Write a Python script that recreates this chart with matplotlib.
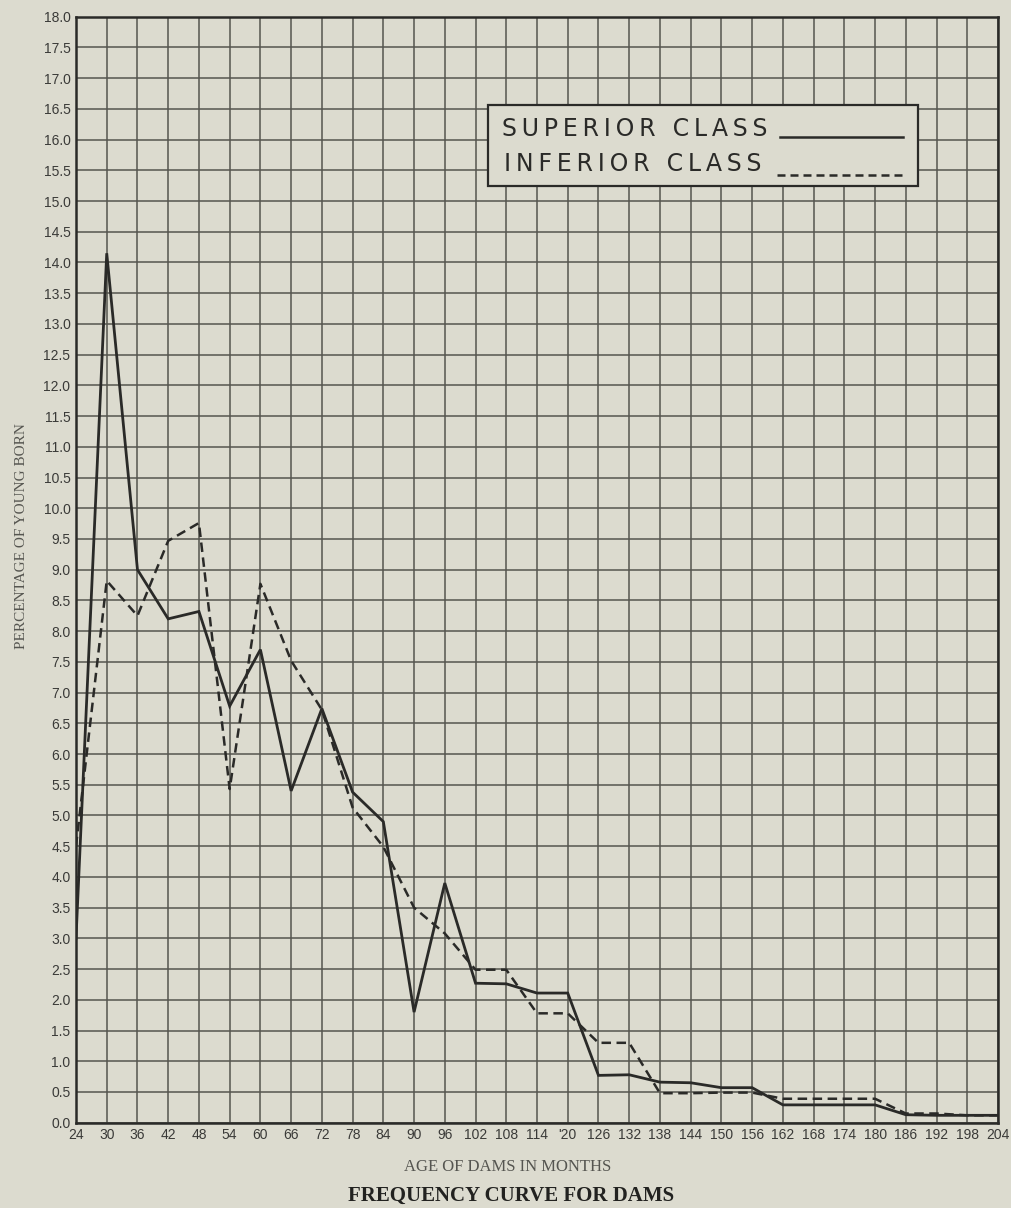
import numpy as np
import matplotlib
matplotlib.use('Agg')
import matplotlib.pyplot as plt
from matplotlib.patches import Rectangle
from matplotlib.lines import Line2D

# age of dams in months
ages = list(range(24, 205, 6))
age_labels = [str(a) for a in ages]
age_labels[ages.index(120)] = "'20"

superior = [3.0, 14.15, 9.0, 8.2, 8.32, 6.78, 7.7, 5.4, 6.74, 5.38, 4.9,
            1.8, 3.9, 2.27, 2.26, 2.11, 2.11, 0.77, 0.78, 0.66, 0.65, 0.57,
            0.57, 0.29, 0.29, 0.29, 0.29, 0.13, 0.12, 0.12, 0.12]
inferior = [4.5, 8.82, 8.25, 9.47, 9.76, 5.43, 8.77, 7.52, 6.72, 5.13, 4.49,
            3.5, 3.08, 2.49, 2.49, 1.78, 1.78, 1.3, 1.3, 0.48, 0.48, 0.49,
            0.49, 0.39, 0.39, 0.39, 0.39, 0.15, 0.15, 0.12, 0.12]

y_ticks = np.arange(0, 18.01, 0.5)

bg = '#dcdbcf'
ink = '#2a2a28'
grid_c = '#55554f'

fig = plt.figure(figsize=(10.11, 12.08), dpi=100, facecolor=bg)
W, H = 1011, 1208
L, R, T, B = 76, 998, 16.7, 1122.7
ax = fig.add_axes([L / W, 1 - B / H, (R - L) / W, (B - T) / H], facecolor=bg)

ax.plot(ages, superior, color=ink, lw=2.0, solid_joinstyle='miter', zorder=3)
ax.plot(ages, inferior, color=ink, lw=1.8, dashes=(3.8, 2.2), zorder=3)

ax.set_xlim(24, 204)
ax.set_ylim(0, 18)
ax.set_xticks(ages)
ax.set_xticklabels(age_labels)
ax.set_yticks(y_ticks)
ax.set_yticklabels(['%.1f' % v for v in y_ticks])
ax.grid(True, color=grid_c, lw=1.1)
ax.set_axisbelow(True)
ax.tick_params(length=0, labelsize=10, labelcolor='#3a3a38', pad=4)
for lab in ax.get_xticklabels() + ax.get_yticklabels():
    lab.set_fontfamily('Liberation Sans')
for s in ax.spines.values():
    s.set_color(ink)
    s.set_linewidth(1.8)

ax.set_ylabel('PERCENTAGE OF YOUNG BORN', family='Liberation Serif',
              fontsize=11, color='#555550')
ax.yaxis.set_label_coords(-0.052, 0.53)


def axc(px, py):
    return ((px - L) / (R - L), (B - py) / (B - T))


def spaced(word):
    return '\u2009'.join(word)


# legend box
x0, y0 = axc(488, 186)
x1, y1 = axc(918, 105)
ax.add_patch(Rectangle((x0, y0), x1 - x0, y1 - y0, transform=ax.transAxes,
                       facecolor=bg, edgecolor=ink, lw=1.6, zorder=5))
tx, ty = axc(502, 129)
ax.text(tx, ty, spaced('SUPERIOR') + '\u2009 \u2009' + spaced('CLASS'),
        transform=ax.transAxes, fontsize=17, family='DejaVu Sans', color=ink,
        va='center', ha='left', zorder=6)
tx, ty = axc(504, 164)
ax.text(tx, ty, spaced('INFERIOR') + '\u2009 \u2009' + spaced('CLASS'),
        transform=ax.transAxes, fontsize=17, family='DejaVu Sans', color=ink,
        va='center', ha='left', zorder=6)
a, b = axc(780, 137)
c, d = axc(903, 137)
ax.add_line(Line2D([a, c], [b, d], transform=ax.transAxes, color=ink, lw=1.8, zorder=6))
a, b = axc(777, 175)
c, d = axc(905, 175)
ax.add_line(Line2D([a, c], [b, d], transform=ax.transAxes, color=ink, lw=1.8,
                   dashes=(3.2, 2.0), zorder=6))

fig.text(508 / W, 1 - 1167 / H, 'AGE OF DAMS IN MONTHS', ha='center', va='center',
         family='Liberation Serif', fontsize=12, color='#555550')
fig.text(511 / W, 1 - 1196 / H, 'FREQUENCY CURVE FOR DAMS', ha='center', va='center',
         family='Liberation Serif', fontsize=15, weight='bold', color='#222220')

fig.savefig('out.png', dpi=100, facecolor=bg)
